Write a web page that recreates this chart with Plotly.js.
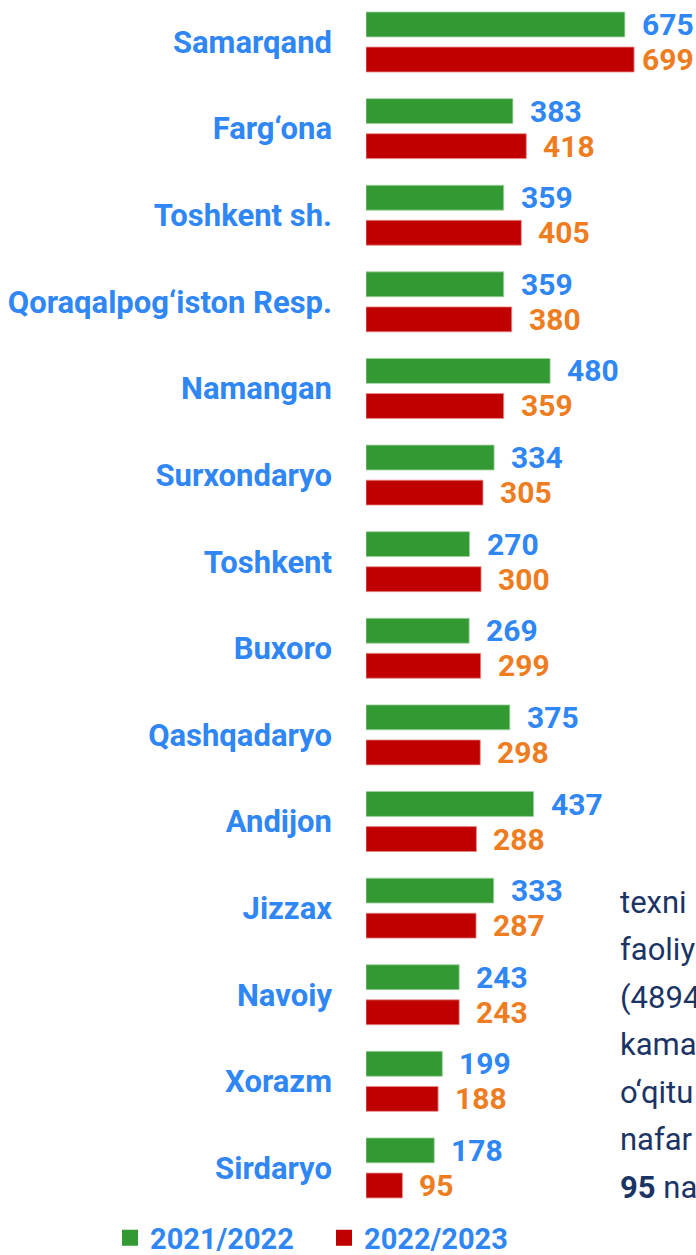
<!DOCTYPE html>
<html>
<head>
<meta charset="utf-8">
<script src="https://cdn.plot.ly/plotly-3.0.1.min.js"></script>
<style>
  html, body { margin: 0; padding: 0; background: #ffffff; overflow: hidden; }
  #chart { width: 696px; height: 1255px; }
</style>
</head>
<body>
<div id="chart"></div>
<script>
const regions = ["Samarqand", "Farg‘ona", "Toshkent sh.", "Qoraqalpog‘iston Resp.", "Namangan",
  "Surxondaryo", "Toshkent", "Buxoro", "Qashqadaryo", "Andijon", "Jizzax", "Navoiy", "Xorazm", "Sirdaryo"];
const values2122 = [675, 383, 359, 359, 480, 334, 270, 269, 375, 437, 333, 243, 199, 178];
const values2223 = [699, 418, 405, 380, 359, 305, 300, 299, 298, 288, 287, 243, 188, 95];
const seriesNames = ["2021/2022", "2022/2023"];
const sideText = ["texni", "faoliy", "(4894", "kama", "o‘qitu", "nafar", "<b>95</b> na"];

const GREEN = "#339933", RED = "#C00000", BLUE = "#2F86F5", ORANGE = "#EE7D21", NAVY = "#1B3466";
const FONT = "Roboto, 'Open Sans', sans-serif";

const W = 696, H = 1255, ML = 366, MB = 44;
const PH = H - MB;
const XMAX = 860.5;
const pxPerUnit = (W - ML) / XMAX;

const traces = [
  { type: "bar", orientation: "h", name: seriesNames[0], y: regions, x: values2122,
    marker: { color: GREEN, line: { color: "rgba(160,210,160,0.8)", width: 1 } },
    showlegend: false, hoverinfo: "x+y" },
  { type: "bar", orientation: "h", name: seriesNames[1], y: regions, x: values2223,
    marker: { color: RED, line: { color: "rgba(230,140,140,0.8)", width: 1 } },
    showlegend: false, hoverinfo: "x+y" },
  { type: "scatter", mode: "markers", name: seriesNames[0], x: [null], y: [null],
    marker: { symbol: "square", size: 20, color: GREEN }, showlegend: true },
  { type: "scatter", mode: "markers", name: seriesNames[1], x: [null], y: [null],
    marker: { symbol: "square", size: 20, color: RED }, showlegend: true }
];

// keep value labels inside the page: shrink the gap when a label would run past the edge
function labelShift(v) {
  const end = ML + v * pxPerUnit;
  return Math.min(15, W - 56 - end);
}

const annotations = [];
regions.forEach((r, i) => {
  annotations.push({ x: values2122[i], y: r, xref: "x", yref: "y", text: String(values2122[i]),
    showarrow: false, xanchor: "left", yanchor: "middle", xshift: labelShift(values2122[i]), yshift: 17.5,
    font: { family: FONT, size: 30, weight: "bold", color: BLUE } });
  annotations.push({ x: values2223[i], y: r, xref: "x", yref: "y", text: String(values2223[i]),
    showarrow: false, xanchor: "left", yanchor: "middle", xshift: labelShift(values2223[i]), yshift: -17.5,
    font: { family: FONT, size: 30, weight: "bold", color: ORANGE } });
});
sideText.forEach((t, k) => {
  annotations.push({ x: (618 - ML) / (W - ML), y: 1 - (902 + k * 47.5) / PH, xref: "paper", yref: "paper",
    text: t, showarrow: false, xanchor: "left", yanchor: "middle",
    font: { family: FONT, size: 31, color: NAVY } });
});

const layout = {
  width: W, height: H,
  margin: { l: ML, r: 0, t: 0, b: MB, pad: 0, autoexpand: false },
  paper_bgcolor: "#ffffff", plot_bgcolor: "#ffffff",
  barmode: "group", bargap: 0.19, bargroupgap: 0.29,
  xaxis: { range: [0, XMAX], showgrid: false, zeroline: false, showticklabels: false,
    showline: false, ticks: "", fixedrange: true },
  yaxis: { type: "category", range: [13.497, -0.485], showgrid: false, zeroline: false,
    showline: false, ticks: "", ticklabelstandoff: 33, automargin: false,
    tickfont: { family: FONT, size: 31, weight: "bold", color: BLUE }, fixedrange: true },
  showlegend: true,
  legend: { orientation: "h", x: (110 - ML) / (W - ML), xanchor: "left",
    y: -(1238 - PH) / PH, yanchor: "middle", entrywidth: 169, entrywidthmode: "pixels",
    font: { family: FONT, size: 29, weight: "bold", color: BLUE },
    bgcolor: "rgba(0,0,0,0)" },
  annotations: annotations
};

Plotly.newPlot("chart", traces, layout, { displayModeBar: false, staticPlot: true });
</script>
</body>
</html>
